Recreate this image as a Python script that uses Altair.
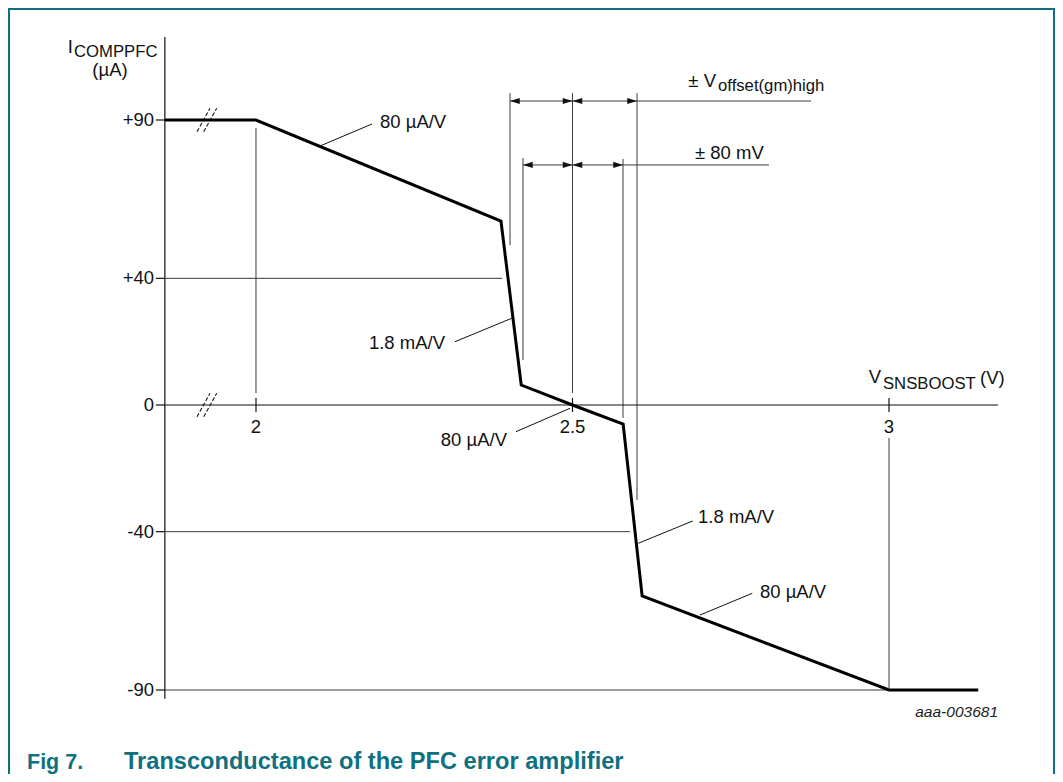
import altair as alt
import pandas as pd

# ---------------- data (volts / microamps) ----------------
curve_v = [1.856, 2.0, 2.387, 2.419, 2.5, 2.580, 2.610, 3.0, 3.141]
curve_i = [90, 90, 58.1, 6.3, 0, -6.0, -60.3, -90, -90]

y_ticks = [90, 40, 0, -40, -90]
y_tick_labels = ["+90", "+40", "0", "-40", "-90"]
x_ticks = [2.0, 2.5, 3.0]
x_tick_labels = ["2", "2.5", "3"]

# vertical guide lines: x, top, bottom
vref_x = [2.0, 2.5, 3.0, 2.4013, 2.4218, 2.5798, 2.6019]
vref_top = [87.5, 98.5, -10.4, 98.5, 78.0, 77.7, 98.5]
vref_bot = [3.8, 3.8, -89.4, 50.5, 14.2, -4.1, -30.0]

# horizontal guide lines: y, x start, x end
href_y = [40, -40, -90, 96.0, 75.8]
href_x0 = [1.856, 1.856, 1.856, 2.4013, 2.4218]
href_x1 = [2.389, 2.591, 3.0, 2.8768, 2.8104]

# dimension arrows (tips): y, x
arrow_right_y = [96.0, 96.0, 75.8, 75.8]
arrow_right_x = [2.5, 2.6019, 2.5, 2.5798]
arrow_left_y = [96.0, 96.0, 75.8, 75.8]
arrow_left_x = [2.4013, 2.5, 2.4218, 2.5]

# slope annotations: leader line and label
lead_x0 = [2.1011, 2.3144, 2.4107, 2.6039, 2.7014]
lead_y0 = [81.79, 19.99, -8.43, -43.67, -66.32]
lead_x1 = [2.1833, 2.4039, 2.4961, 2.6899, 2.7840]
lead_y1 = [88.74, 27.38, -1.04, -36.63, -59.46]
note_text = ["80 µA/V", "1.8 mA/V", "80 µA/V", "1.8 mA/V", "80 µA/V"]
note_x = [2.1959, 2.2986, 2.3965, 2.6983, 2.7962]
note_align = ["left", "right", "right", "left", "left"]
note_y = [89.37, 19.58, -11.05, -35.37, -59.21]

# axis break marks
break_y = [90, 0]
break_x0 = [1.9068, 1.9174]

# axis / titles geometry in data units
Y_AXIS_X = 1.856
Y_AXIS_TOP, Y_AXIS_BOT = 116.2, -92.8
X_AXIS_END = 3.172
X_DOMAIN = [1.608215, 3.262243]
Y_DOMAIN = [-116.526, 125.368]

FONT = "Liberation Sans"
TEAL = "#0f7080"
INK = "#111111"
GUIDE = "#3a3a3a"
W, H = 1047, 766

XS = alt.Scale(domain=X_DOMAIN, nice=False, zero=False)
YS = alt.Scale(domain=Y_DOMAIN, nice=False, zero=False)


def X(f):
    return alt.X(f, type="quantitative", scale=XS, axis=None)


def Y(f):
    return alt.Y(f, type="quantitative", scale=YS, axis=None)


def rules(df, color=GUIDE, width=1.0, dash=None):
    kw = dict(color=color, strokeWidth=width)
    if dash:
        kw["strokeDash"] = dash
    return alt.Chart(df).mark_rule(**kw).encode(
        x=X("x0"), x2="x1", y=Y("y0"), y2="y1"
    )


def texts(df, size=18.5, align="left", baseline="alphabetic", color=INK,
          weight="normal", style="normal"):
    return alt.Chart(df).mark_text(
        font=FONT, fontSize=size, align=align, baseline=baseline,
        color=color, fontWeight=weight, fontStyle=style
    ).encode(x=X("x"), y=Y("y"), text="t:N")


layers = []

# guides
vdf = pd.DataFrame({"x0": vref_x, "x1": vref_x, "y0": vref_top, "y1": vref_bot})
hdf = pd.DataFrame({"x0": href_x0, "x1": href_x1, "y0": href_y, "y1": href_y})
layers.append(rules(vdf))
layers.append(rules(hdf))

# axes
axes_df = pd.DataFrame({
    "x0": [Y_AXIS_X, Y_AXIS_X],
    "x1": [Y_AXIS_X, X_AXIS_END],
    "y0": [Y_AXIS_TOP, 0],
    "y1": [Y_AXIS_BOT, 0],
})
layers.append(rules(axes_df, color=INK, width=1.2))
ytick_df = pd.DataFrame({"x0": [Y_AXIS_X - 0.0142] * len(y_ticks),
                         "x1": [Y_AXIS_X] * len(y_ticks),
                         "y0": y_ticks, "y1": y_ticks})
layers.append(rules(ytick_df, color=INK, width=1.2))
xtick_df = pd.DataFrame({"x0": x_ticks, "x1": x_ticks,
                         "y0": [2.2] * len(x_ticks), "y1": [-2.2] * len(x_ticks)})
layers.append(rules(xtick_df, color=INK, width=1.2))

# leaders
lead_df = pd.DataFrame({"x0": lead_x0, "x1": lead_x1, "y0": lead_y0, "y1": lead_y1})
layers.append(rules(lead_df, color=INK, width=1.0))

# break marks
bx0, bx1, by0, by1 = [], [], [], []
for yb in break_y:
    for xb in break_x0:
        bx0.append(xb)
        bx1.append(xb + 0.0205)
        by0.append(yb - 3.7)
        by1.append(yb + 3.7)
brk_df = pd.DataFrame({"x0": bx0, "x1": bx1, "y0": by0, "y1": by1})
layers.append(rules(brk_df, color=INK, width=1.1, dash=[4, 2]))

# curve
curve_df = pd.DataFrame({"v": curve_v, "i": curve_i, "o": range(len(curve_v))})
layers.append(alt.Chart(curve_df).mark_line(
    color="black", strokeWidth=3, strokeJoin="miter"
).encode(x=X("v"), y=Y("i"), order="o:Q"))

# arrowheads
ar_df = pd.DataFrame({"x": arrow_right_x, "y": arrow_right_y})
al_df = pd.DataFrame({"x": arrow_left_x, "y": arrow_left_y})
layers.append(alt.Chart(ar_df).mark_point(
    shape="M0,0L-1,-0.32L-1,0.32Z", size=380, filled=True, color=INK, opacity=1
).encode(x=X("x"), y=Y("y")))
layers.append(alt.Chart(al_df).mark_point(
    shape="M0,0L1,-0.32L1,0.32Z", size=380, filled=True, color=INK, opacity=1
).encode(x=X("x"), y=Y("y")))

# tick labels
layers.append(texts(pd.DataFrame({"x": [1.8390] * len(y_ticks), "y": y_ticks,
                                  "t": y_tick_labels}),
                    align="right", baseline="middle"))
layers.append(texts(pd.DataFrame({"x": x_ticks, "y": [-8.84] * len(x_ticks),
                                  "t": x_tick_labels}),
                    align="center"))

# slope notes
notes = pd.DataFrame({"x": note_x, "y": note_y, "t": note_text, "a": note_align})
for al in ["left", "right"]:
    layers.append(texts(notes[notes.a == al], align=al, baseline="middle"))

# axis titles and dimension labels
main_r = pd.DataFrame({
    "x": [1.7109, 2.9874, 2.7267],
    "y": [111.16, 6.947, 100.42],
    "t": ["I", "V", "± V"],
})
layers.append(texts(main_r, align="right"))
main_l = pd.DataFrame({
    "x": [3.1438, 2.6935],
    "y": [6.63, 77.68],
    "t": ["(V)", "± 80 mV"],
})
layers.append(texts(main_l))
sub_df = pd.DataFrame({
    "x": [1.7125, 2.9905, 2.7299],
    "y": [109.89, 5.05, 99.16],
    "t": ["COMPPFC", "SNSBOOST", "offset(gm)high"],
})
layers.append(texts(sub_df, size=16.7))
layers.append(texts(pd.DataFrame({"x": [1.7694], "y": [103.9], "t": ["(µA)"]}),
                    align="center"))

# figure id
layers.append(texts(pd.DataFrame({"x": [3.1722], "y": [-98.5], "t": ["aaa-003681"]}),
                    size=15.5, align="right", style="italic", color="#222222"))

# caption
layers.append(texts(pd.DataFrame({"x": [1.63823], "y": [-114.95], "t": ["Fig 7."]}),
                    size=21.5, weight="bold", color=TEAL))
layers.append(texts(pd.DataFrame({"x": [1.79147], "y": [-114.95],
                                  "t": ["Transconductance of the PFC error amplifier"]}),
                    size=23.6, weight="bold", color=TEAL))

# frame (decorative border)
one = pd.DataFrame({"k": [0]})
frame = [
    alt.Chart(one).mark_rule(color=TEAL, strokeWidth=2).encode(
        x=alt.value(1), y=alt.value(0), y2=alt.value(H)),
    alt.Chart(one).mark_rule(color=TEAL, strokeWidth=2).encode(
        x=alt.value(0), x2=alt.value(W), y=alt.value(1)),
    alt.Chart(one).mark_rule(color=TEAL, strokeWidth=2).encode(
        x=alt.value(W - 1), y=alt.value(0), y2=alt.value(H)),
]

chart = alt.layer(*layers, *frame).properties(
    width=W, height=H, padding=0,
    autosize=alt.AutoSizeParams(type="none"),
).configure_view(stroke=None)

chart.save("out.html", embed_options={"renderer": "svg", "actions": False})
